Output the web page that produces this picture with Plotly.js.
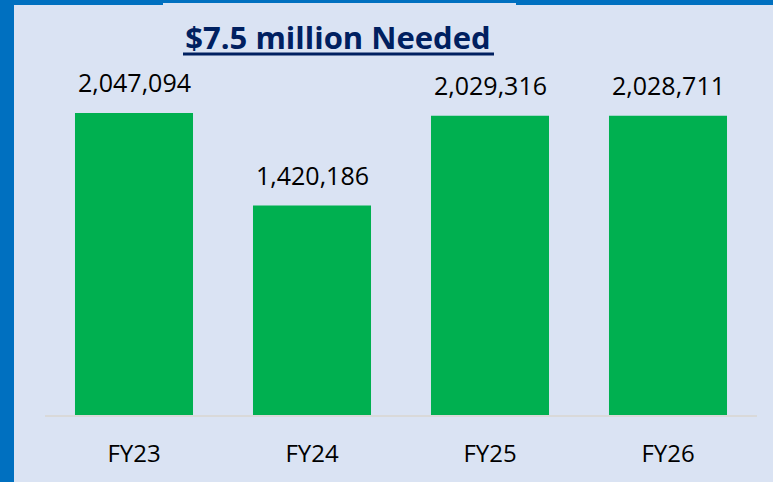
<!DOCTYPE html>
<html>
<head>
<meta charset="utf-8">
<script src="https://cdn.plot.ly/plotly-3.0.1.min.js"></script>
<style>
html,body{margin:0;padding:0;background:#dae3f3;}
#chart{width:773px;height:482px;}
</style>
</head>
<body>
<div id="chart"></div>
<script>
const categories = ["FY23", "FY24", "FY25", "FY26"];
const values = [2047094, 1420186, 2029316, 2028711];
const titleText = "$7.5 million Needed";

const W = 773, H = 482;
const M = {l: 45, r: 16, t: 61, b: 67};
const pw = W - M.l - M.r, ph = H - M.t - M.b;
function px(x){ return (x - M.l) / pw; }
function py(y){ return (H - M.b - y) / ph; }

const blue = "#0070c0";
const shapes = [
  {type:"rect", xref:"paper", yref:"paper", x0:px(0), x1:px(14), y0:py(482), y1:py(0), fillcolor:blue, line:{width:0}, layer:"above"},
  {type:"rect", xref:"paper", yref:"paper", x0:px(14), x1:px(163), y0:py(5), y1:py(0), fillcolor:blue, line:{width:0}, layer:"above"},
  {type:"rect", xref:"paper", yref:"paper", x0:px(163), x1:px(516), y0:py(3), y1:py(0), fillcolor:blue, line:{width:0}, layer:"above"},
  {type:"rect", xref:"paper", yref:"paper", x0:px(516), x1:px(773), y0:py(5), y1:py(0), fillcolor:blue, line:{width:0}, layer:"above"},
  {type:"line", xref:"paper", yref:"paper", x0:px(183), x1:px(494), y0:py(54), y1:py(54), line:{color:"#002060", width:3}, layer:"above"}
];

const labelFont = {family: "Open Sans, sans-serif", size: 25, color: "#000000"};
const annotations = categories.map((c, i) => ({
  x: c, y: values[i], xref: "x", yref: "y",
  text: values[i].toLocaleString("en-US"),
  showarrow: false, xanchor: "center", yanchor: "bottom",
  yshift: 12, font: labelFont
}));

const trace = {
  type: "bar",
  x: categories,
  y: values,
  marker: {color: "#00b050"},
  hoverinfo: "none"
};

const layout = {
  width: W, height: H,
  margin: M,
  paper_bgcolor: "#dae3f3",
  plot_bgcolor: "#dae3f3",
  bargap: 0.337,
  showlegend: false,
  title: {
    text: "<b>" + titleText + "</b>",
    font: {family: "Open Sans, sans-serif", size: 31, color: "#002060"},
    x: 338 / W, xanchor: "center", xref: "container",
    y: 1 - 38 / H, yanchor: "middle", yref: "container"
  },
  xaxis: {
    type: "category",
    showline: true, linecolor: "#d9d9d9", linewidth: 2,
    ticks: "outside", ticklen: 16, tickcolor: "rgba(0,0,0,0)",
    tickfont: {family: "Open Sans, sans-serif", size: 24, color: "#000000"},
    showgrid: false, zeroline: false
  },
  yaxis: {
    range: [0, 2400000],
    visible: false, showgrid: false, zeroline: false
  },
  annotations: annotations,
  shapes: shapes
};

Plotly.newPlot("chart", [trace], layout, {displayModeBar: false, staticPlot: true});
</script>
</body>
</html>
